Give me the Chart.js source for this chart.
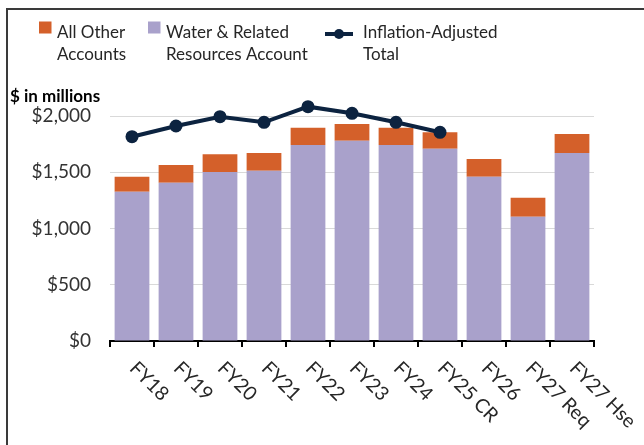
<!DOCTYPE html>
<html>
<head>
<meta charset="utf-8">
<script src="https://cdn.jsdelivr.net/npm/chart.js@4.4.1/dist/chart.umd.min.js"></script>
<style>
  html, body { margin: 0; padding: 0; background: #fff; }
  #wrap { position: relative; width: 644px; height: 445px; overflow: hidden; }
  #frame { position: absolute; left: 6px; top: 8px; width: 700px; height: 500px;
           border-left: 2px solid #3a3a3a; border-top: 2px solid #3a3a3a; box-sizing: border-box; pointer-events: none; }
  canvas { position: absolute; left: 0; top: 0; }
</style>
</head>
<body>
<div id="wrap">
  <canvas id="c" width="644" height="445"></canvas>
  <div id="frame"></div>
</div>
<script>
// ---- data ----
const categories = ['FY18','FY19','FY20','FY21','FY22','FY23','FY24','FY25 CR','FY26','FY27 Req','FY27 Hse'];
const waterRelated = [1327, 1407, 1502, 1514, 1742, 1781, 1742, 1710, 1461, 1105, 1671];
const allOther     = [133, 157, 157, 157, 154, 148, 154, 145, 157, 169, 169];
const inflationAdjusted = [1816, 1911, 1994, 1944, 2083, 2024, 1944, 1855, null, null, null];
const yTicks = [0, 500, 1000, 1500, 2000];
const legendOther = ['All Other', 'Accounts'];
const legendWater = ['Water & Related', 'Resources Account'];
const legendLine  = ['Inflation-Adjusted', 'Total'];
const yAxisTitle = '$ in millions';

const ORANGE = '#D4602A';
const PURPLE = '#A9A1CB';
const NAVY = '#0C2340';
const FONT = 'Lato, "Open Sans", sans-serif';

const customDraw = {
  id: 'customDraw',
  afterDraw(chart) {
    const ctx = chart.ctx;
    const xs = chart.scales.x;
    ctx.save();
    // rotated category labels
    ctx.fillStyle = '#262626';
    ctx.font = '19.5px ' + FONT;
    ctx.textAlign = 'left';
    ctx.textBaseline = 'alphabetic';
    categories.forEach((lab, i) => {
      const px = xs.getPixelForValue(i);
      ctx.save();
      ctx.translate(px - 3.5, 369.5);
      ctx.rotate(Math.PI / 4);
      ctx.fillText(lab, 0, 0);
      ctx.restore();
    });
    // axis title
    ctx.font = 'bold 17px ' + FONT;
    ctx.fillStyle = '#000';
    ctx.fillText(yAxisTitle, 10, 102);
    // legend
    ctx.font = '17px ' + FONT;
    const ds = chart.data.datasets;
    const items = [
      { lines: legendOther, color: ds[1].backgroundColor, type: 'box', x: 39, tx: 57 },
      { lines: legendWater, color: ds[0].backgroundColor, type: 'box', x: 148, tx: 166 },
      { lines: legendLine, color: ds[2].borderColor, type: 'line', x: 325, tx: 363 }
    ];
    items.forEach(it => {
      if (it.type === 'box') {
        ctx.fillStyle = it.color;
        ctx.fillRect(it.x, 21.5, 12.5, 12);
      } else {
        ctx.strokeStyle = it.color;
        ctx.lineWidth = 4;
        ctx.beginPath();
        ctx.moveTo(it.x, 34);
        ctx.lineTo(it.x + 28, 34);
        ctx.stroke();
        ctx.fillStyle = it.color;
        ctx.beginPath();
        ctx.arc(it.x + 14, 34, 5, 0, Math.PI * 2);
        ctx.fill();
      }
      ctx.fillStyle = '#262626';
      it.lines.forEach((ln, k) => ctx.fillText(ln, it.tx, 38 + k * 21.7));
    });
    ctx.restore();
  }
};

new Chart(document.getElementById('c'), {
  data: {
    labels: categories,
    datasets: [
      { type: 'bar', label: legendWater.join(' '), data: waterRelated, backgroundColor: PURPLE, stack: 'bars', order: 2,
        barPercentage: 0.79, categoryPercentage: 1.0 },
      { type: 'bar', label: legendOther.join(' '), data: allOther, backgroundColor: ORANGE, stack: 'bars', order: 2,
        barPercentage: 0.79, categoryPercentage: 1.0 },
      { type: 'line', label: legendLine.join(' '), data: inflationAdjusted, borderColor: NAVY, backgroundColor: NAVY,
        borderWidth: 4, pointRadius: 6.5, pointBackgroundColor: NAVY, pointBorderWidth: 0, stack: 'line', order: 1,
        tension: 0, clip: false, spanGaps: false }
    ]
  },
  options: {
    responsive: false,
    animation: false,
    layout: { padding: { left: 10, right: 50, top: 104.75, bottom: 0 } },
    plugins: { legend: { display: false }, tooltip: { enabled: false } },
    scales: {
      x: {
        stacked: true,
        offset: true,
        grid: { display: true, drawOnChartArea: false, drawTicks: true, tickLength: 6, color: '#000', lineWidth: 2, offset: true },
        border: { display: true, color: '#000', width: 2 },
        ticks: { display: false },
        afterFit(s) { s.height = 104; }
      },
      y: {
        stacked: true,
        min: 0, max: 2100,
        afterBuildTicks(s) { s.ticks = yTicks.map(v => ({ value: v })); },
        grid: { color: '#D9D9D9', lineWidth: 1, drawTicks: false },
        border: { display: false },
        ticks: { padding: 19, color: '#333', font: { size: 19, family: FONT },
                 callback: v => '$' + v.toLocaleString('en-US') },
        afterFit(s) { s.width = 100; }
      }
    }
  },
  plugins: [customDraw]
});
</script>
</body>
</html>
